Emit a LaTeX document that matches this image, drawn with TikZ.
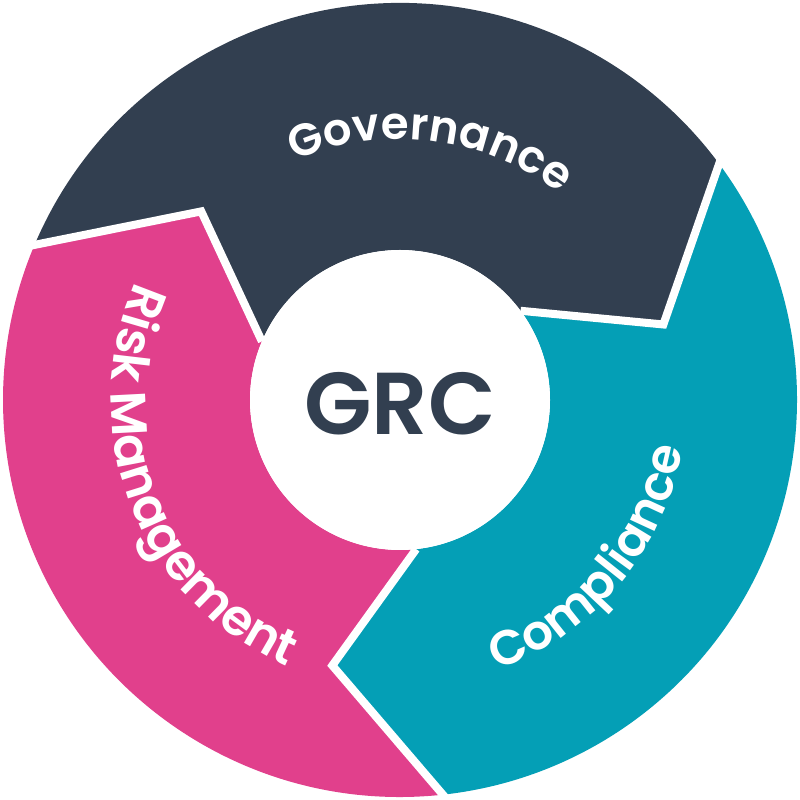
\documentclass[tikz,border=0pt]{standalone}
\usepackage{fontspec}
\newfontfamily\popsb{Poppins SemiBold}
\usetikzlibrary{decorations.text}
\definecolor{navy}{HTML}{323F50}
\definecolor{pinkc}{HTML}{E1408C}
\definecolor{tealc}{HTML}{049FB6}
\begin{document}
\begin{tikzpicture}[
  sep/.style={white, line width=0.08cm, line join=miter, miter limit=10, shorten <=-8pt},
  arctext/.style={decorate, decoration={text along path, text align=center, text color=white}}
]
\useasboundingbox (-4,-4) rectangle (4,4);
\fill[white] (-4,-4) rectangle (4,4);
\def\Ro{3.97}\def\Ri{1.5}\def\Rm{2.74}
\def\bA{157}\def\bB{36.5}\def\bC{-83.8}\def\d{20.5}
% Governance
\fill[navy] (\bA:\Ro) arc[start angle=\bA, end angle=\bB, radius=\Ro]
  -- ({\bB-\d}:\Rm) -- (\bB:\Ri) arc[start angle=\bB, end angle=\bA, radius=\Ri]
  -- ({\bA-\d}:\Rm) -- cycle;
% Compliance
\fill[tealc] (\bB:\Ro) arc[start angle=\bB, end angle=\bC, radius=\Ro]
  -- ({\bC-\d}:\Rm) -- (\bC:\Ri) arc[start angle=\bC, end angle=\bB, radius=\Ri]
  -- ({\bB-\d}:\Rm) -- cycle;
% Risk Management
\fill[pinkc] ({\bC+360}:\Ro) arc[start angle={\bC+360}, end angle=\bA, radius=\Ro]
  -- ({\bA-\d}:\Rm) -- (\bA:\Ri) arc[start angle=\bA, end angle={\bC+360}, radius=\Ri]
  -- ({\bC+360-\d}:\Rm) -- cycle;
% separators
\draw[sep] (\bA:\Ro) -- ({\bA-\d}:\Rm) -- (\bA:\Ri);
\draw[sep] (\bB:\Ro) -- ({\bB-\d}:\Rm) -- (\bB:\Ri);
\draw[sep] (\bC:\Ro) -- ({\bC-\d}:\Rm) -- (\bC:\Ri);
\fill[white] (0,0) circle (\Ri);
% labels
\path[arctext, decoration={text={|\popsb\fontsize{12.8}{15}\selectfont|Governance}}]
  (125:2.61) arc[start angle=125, end angle=41, radius=2.61];
\path[arctext, decoration={text={|\popsb\fontsize{13.8}{15}\selectfont|Compliance}}]
  (-83:2.87) arc[start angle=-83, end angle=3, radius=2.87];
\path[arctext, decoration={text={|\popsb\fontsize{14.2}{16}\selectfont|Risk Management}}]
  (148:2.89) arc[start angle=148, end angle=255, radius=2.89];
\node[text=navy, font=\popsb\fontsize{25}{28}\selectfont, inner sep=0pt] (grc) at (0,-0.035) {GRC};
\end{tikzpicture}
\end{document}
